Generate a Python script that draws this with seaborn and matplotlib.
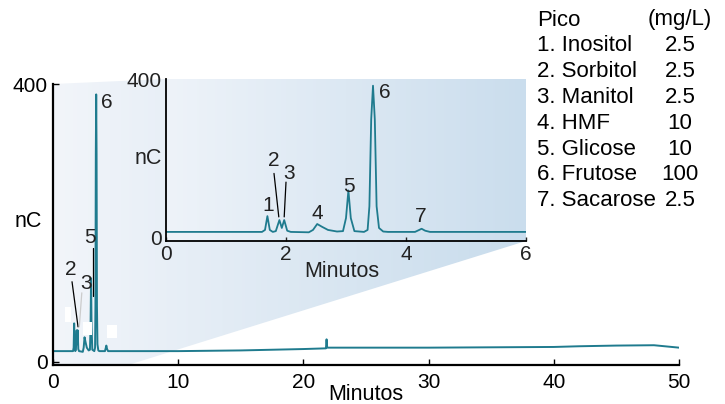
import numpy as np
import pandas as pd
import matplotlib
matplotlib.use("Agg")
import matplotlib.pyplot as plt
from matplotlib.patches import Polygon, Rectangle
from matplotlib.colors import LinearSegmentedColormap
import seaborn as sns

# ---------------- data ----------------
time_min = [0.0, 1.60, 1.65, 1.69, 1.73, 1.78, 1.83, 1.89, 1.93, 1.97, 2.02, 2.08,
            2.38, 2.45, 2.52, 2.60, 2.70, 2.85, 2.95, 3.00, 3.04, 3.08, 3.14, 3.30,
            3.36, 3.39, 3.42, 3.45, 3.48, 3.51, 3.55, 3.62, 3.70, 4.15, 4.22, 4.26,
            4.32, 4.40, 6.0, 10.0, 15.0, 20.0, 21.80, 21.85, 21.90, 25.0, 30.0,
            40.0, 42.0, 45.0, 48.0, 50.0]
signal_nc = [15, 15, 20, 55, 20, 15, 17, 45, 25, 45, 18, 15,
             14, 20, 35, 28, 20, 16, 17, 50, 120, 50, 17, 15,
             20, 80, 300, 385, 300, 80, 25, 16, 15, 15, 20, 23,
             18, 15, 15, 15, 16, 18, 19, 32, 20, 20, 20,
             21, 22, 23, 23.5, 20]

peak_ids = ["1", "2", "3", "4", "5", "6", "7"]
compounds = ["Inositol", "Sorbitol", "Manitol", "HMF", "Glicose", "Frutose", "Sacarose"]
conc_mg_l = ["2.5", "2.5", "2.5", "10", "10", "100", "2.5"]

main_xticks = [0, 10, 20, 30, 40, 50]
inset_xticks = [0, 2, 4, 6]
yticks = [0, 400]

df = pd.DataFrame({"Minutos": time_min, "nC": signal_nc})

# ---------------- style ----------------
sns.set_theme(style="white")
plt.rcParams["font.family"] = ["Liberation Sans", "DejaVu Sans"]
LINE = "#1f7b8e"
TFS = 15      # tick labels
LBS = 15.5    # axis labels
PFS = 15      # peak labels
TXT = "#222222"

fig = plt.figure(figsize=(7.25, 4.04), dpi=100)
fig.patch.set_facecolor("white")

bg = fig.add_axes([0, 0, 1, 1], zorder=0)
bg.set_xlim(0, 1)
bg.set_ylim(0, 1)
bg.axis("off")

ax = fig.add_axes([53/725, 1-365/404, 626/725, 281/404], zorder=1)
ax.set_facecolor("none")
axi = fig.add_axes([166/725, 1-241/404, 360/725, 162/404], zorder=3)

# ---------------- main chart ----------------
sns.lineplot(data=df, x="Minutos", y="nC", ax=ax, color=LINE, linewidth=1.4,
             estimator=None, sort=False)
ax.set_xlim(0, 50)
ax.set_ylim(-5, 400)
ax.set_xticks(main_xticks)
ax.set_yticks(yticks)
for s in ["top", "right"]:
    ax.spines[s].set_visible(False)
for s in ["left", "bottom"]:
    ax.spines[s].set_color("black")
    ax.spines[s].set_linewidth(1.6)
ax.tick_params(axis="x", direction="in", length=4, width=1, pad=6, labelsize=TFS,
               colors="black", bottom=True)
ax.tick_params(axis="y", direction="in", length=4, width=1, pad=4, labelsize=TFS,
               colors="black", left=True)
ax.set_xlabel("Minutos", fontsize=LBS, color="black")
ax.xaxis.set_label_coords(0.5, -0.066)
ax.set_ylabel("nC", fontsize=LBS, rotation=0, ha="center", va="center", color="black")
ax.yaxis.set_label_coords(-0.040, 0.509)

# main peak labels
ax.text(4.31, 374, "6", fontsize=PFS, ha="center", va="center", color=TXT)
ax.text(2.96, 179, "5", fontsize=PFS, ha="center", va="center", color=TXT)
ax.plot([3.19, 3.19], [163, 94], color="black", lw=0.9)
ax.text(1.44, 132, "2", fontsize=PFS, ha="center", va="center", color=TXT)
ax.plot([1.52, 2.0], [115, 50], color="black", lw=0.9)
ax.text(2.64, 113, "3", fontsize=PFS, ha="center", va="center", color=TXT)
ax.plot([2.3, 2.1], [99, 50], color="#cccccc", lw=0.9)
for (x0, y0, w, h) in [(0.95, 57, 0.45, 22), (2.4, 38, 0.7, 19), (4.3, 34, 0.8, 19)]:
    ax.add_patch(Rectangle((x0, y0), w, h, color="white", zorder=4, lw=0))

# ---------------- inset ----------------
sns.lineplot(data=df, x="Minutos", y="nC", ax=axi, color=LINE, linewidth=1.3,
             estimator=None, sort=False)
axi.set_xticks(inset_xticks)
axi.set_yticks(yticks)
for s in ["top", "right"]:
    axi.spines[s].set_visible(False)
for s in ["left", "bottom"]:
    axi.spines[s].set_color("black")
    axi.spines[s].set_linewidth(1.3)
axi.tick_params(axis="x", direction="in", length=3, width=1, pad=3, labelsize=TFS,
                colors=TXT, bottom=True)
axi.tick_params(axis="y", direction="in", length=0, width=1, pad=3, labelsize=TFS,
                colors=TXT, left=True)
axi.set_xlabel("Minutos", fontsize=LBS, color=TXT)
axi.xaxis.set_label_coords(0.489, -0.125)
axi.set_ylabel("nC", fontsize=LBS, rotation=0, ha="center", va="center", color=TXT)
axi.yaxis.set_label_coords(-0.05, 0.512)

grad = np.linspace(0, 1, 256).reshape(1, -1)
cmap_in = LinearSegmentedColormap.from_list("g", ["#eef3f9", "#cadded"])
axi.imshow(grad, extent=[0, 1, 0, 1], transform=axi.transAxes, aspect="auto",
           cmap=cmap_in, zorder=0)
axi.set_xlim(0, 6)
axi.set_ylim(-8, 402)

lab_pos = [(1.70, 83), (1.80, 196), (2.05, 163), (2.52, 62), (3.05, 131), (3.65, 367), (4.25, 55)]
for pid, (x, y) in zip(peak_ids, lab_pos):
    axi.text(x, y, pid, fontsize=PFS, ha="center", va="center", color=TXT, zorder=5)
axi.plot([1.80, 1.88], [163, 53], color="black", lw=0.9, zorder=5)
axi.plot([2.00, 1.97], [141, 53], color="black", lw=0.9, zorder=5)

# ---------------- zoom fan ----------------
fig.canvas.draw()
to_fig = fig.transFigure.inverted()
def m(x, y):
    return to_fig.transform(ax.transData.transform((x, y)))
def ia(x, y):
    return to_fig.transform(axi.transAxes.transform((x, y)))
poly_pts = np.array([m(0, 400), ia(0, 1), ia(1, 1), ia(1, 0), m(6, -5), m(0, -5)])
poly = Polygon(poly_pts, closed=True, transform=bg.transAxes, facecolor="none", edgecolor="none")
bg.add_patch(poly)
cmap_fan = LinearSegmentedColormap.from_list("f", ["#f2f5fa", "#c8dcec"])
x0, x1 = poly_pts[:, 0].min(), poly_pts[:, 0].max()
y0, y1 = poly_pts[:, 1].min(), poly_pts[:, 1].max()
im = bg.imshow(grad, extent=[x0, x1, y0, y1], aspect="auto", cmap=cmap_fan,
               transform=bg.transAxes, zorder=0)
im.set_clip_path(poly)
bg.set_xlim(0, 1)
bg.set_ylim(0, 1)

# ---------------- legend table ----------------
LFS = 16
x_left = 537/725
x_val = 680/725
y_top = 1 - 20/404
dy = 25.8/404
fig.text(x_left, y_top, "Pico", fontsize=LFS, ha="left", va="center", color="black")
fig.text(x_val, y_top, "(mg/L)", fontsize=LFS, ha="center", va="center", color="black")
for i, (pid, name, c) in enumerate(zip(peak_ids, compounds, conc_mg_l)):
    yy = y_top - (i + 1) * dy
    fig.text(x_left, yy, f"{pid}. {name}", fontsize=LFS, ha="left", va="center", color="black")
    fig.text(x_val, yy, c, fontsize=LFS, ha="center", va="center", color="black")

fig.savefig("out.png", dpi=100, facecolor="white")
